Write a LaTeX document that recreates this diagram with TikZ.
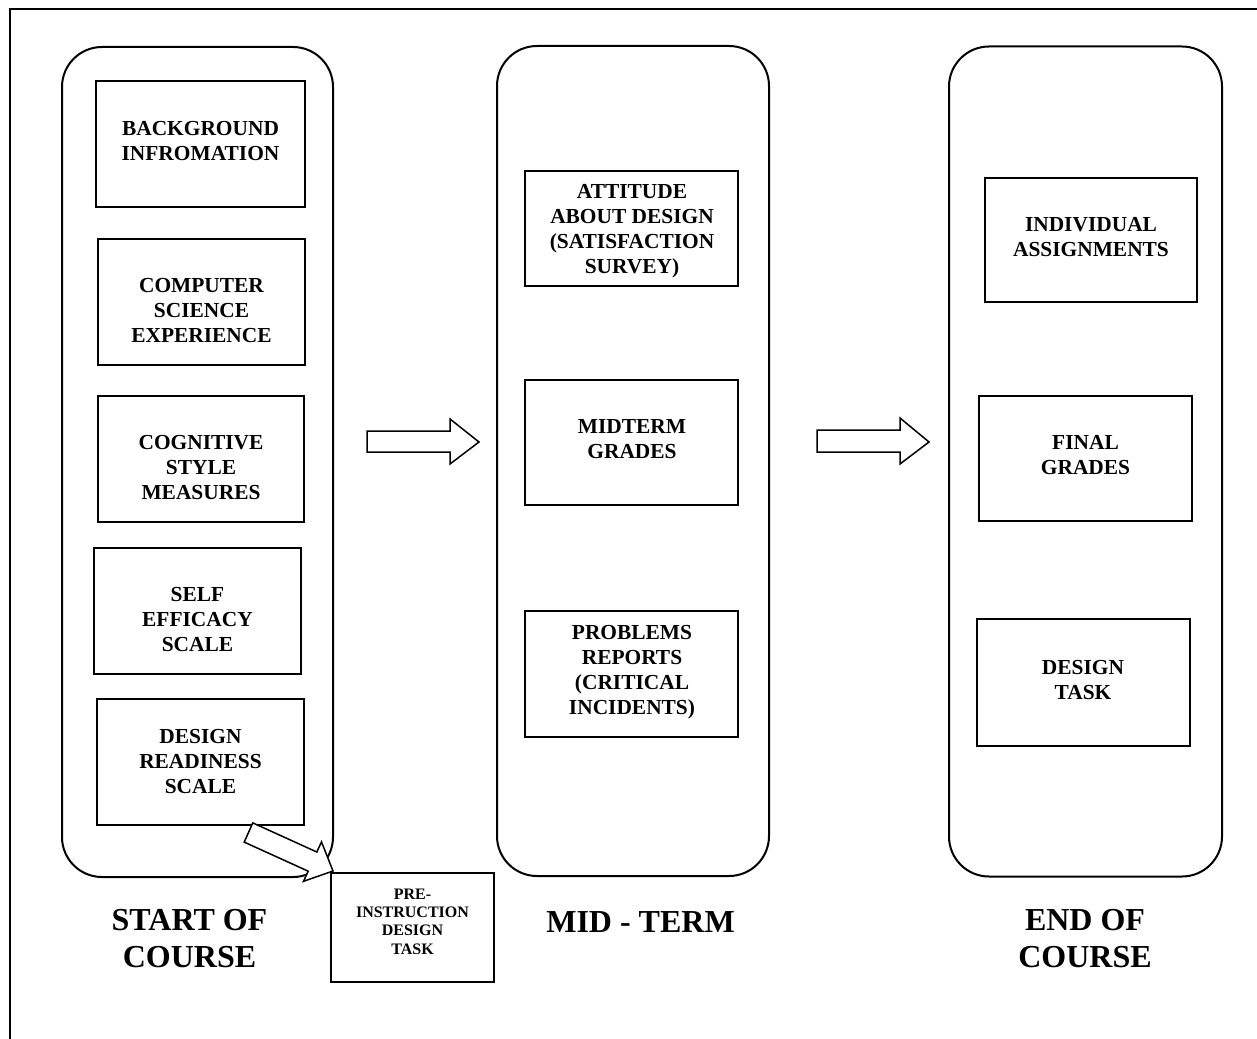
\documentclass[tikz,border=0pt]{standalone}
\usepackage{fontspec}
\setmainfont{Liberation Serif}
\begin{document}
\begin{tikzpicture}[x=1pt,y=-1pt,
  stage/.style={draw,line width=2pt,rounded corners=40pt,minimum width=#1,minimum height=830pt,inner sep=0pt},
  item/.style={draw,line width=2pt,minimum height=126pt,inner sep=0pt,minimum width=#1},
  itemtext/.style={align=center,inner sep=0pt,font=\fontsize{21.4pt}{25pt}\selectfont\bfseries},
  smalltext/.style={align=center,inner sep=0pt,font=\fontsize{16pt}{18.4pt}\selectfont\bfseries},
  bigtext/.style={align=center,inner sep=0pt,font=\fontsize{32pt}{37pt}\selectfont\bfseries},
  blockarrow/.style={draw,line width=1.5pt,fill=white,line join=miter}]
\useasboundingbox (0,0) rectangle (1257,1038);
\fill[white] (0,0) rectangle (1257,1038);

% page frame, running off the right and bottom edges
\begin{scope}
  \clip (0,0) rectangle (1257,1038);
  \draw[line width=2.5pt] (10,1060) -- (10,9) -- (1280,9);
\end{scope}

% the three stages
\node[stage=271pt] (start) at (197.5,462) {};
\node[stage=272pt] (mid)   at (633,461) {};
\node[stage=273pt] (end)   at (1085.5,461.5) {};

% start of course
\node[item=209pt] (bg)   at (200.5,144) {};
\node[itemtext] at (200.5,141.5) {BACKGROUND\\INFROMATION};
\node[item=207pt] (cs)   at (201.5,301.5) {};
\node[itemtext] at (201.5,311) {COMPUTER\\SCIENCE\\EXPERIENCE};
\node[item=206pt] (cog)  at (201,459) {};
\node[itemtext] at (201,468) {COGNITIVE\\STYLE\\MEASURES};
\node[item=207pt] (self) at (197.5,610.5) {};
\node[itemtext] at (197.5,620) {SELF\\EFFICACY\\SCALE};
\node[item=207pt] (dr)   at (200.5,762) {};
\node[itemtext] at (200.5,762) {DESIGN\\READINESS\\SCALE};

% mid-term
\node[item=213pt,minimum height=115pt] (att) at (631.5,228.5) {};
\node[itemtext] at (632,231.5) {ATTITUDE\\ABOUT DESIGN\\(SATISFACTION\\SURVEY)};
\node[item=213pt,minimum height=125pt] (mt) at (631.5,442.5) {};
\node[itemtext] at (632,439.5) {MIDTERM\\GRADES};
\node[item=213pt] (pr) at (631.5,674) {};
\node[itemtext] at (632,672.5) {PROBLEMS\\REPORTS\\(CRITICAL\\INCIDENTS)};

% end of course
\node[item=212pt,minimum height=124pt] (ind) at (1091,240) {};
\node[itemtext] at (1091,237.5) {INDIVIDUAL\\ASSIGNMENTS};
\node[item=213pt,minimum height=125pt] (fg) at (1085.5,458.5) {};
\node[itemtext] at (1085.5,455.5) {FINAL\\GRADES};
\node[item=213pt,minimum height=127pt] (dt) at (1083,682.5) {};
\node[itemtext] at (1083,680) {DESIGN\\TASK};

% stage captions
\node[bigtext] (lstart) at (189.5,938.5) {START OF\\COURSE};
\node[bigtext] (lmid)   at (640.5,922) {MID - TERM};
\node[bigtext] (lend)   at (1085,938.5) {END OF\\COURSE};

% block arrows between stages
\draw[blockarrow] (367,431) -- (450,431) -- (450,419) -- (479,442) -- (450,464)
  -- (450,452) -- (367,452) -- cycle;
\draw[blockarrow] (817,430) -- (900,430) -- (900,418) -- (929,442) -- (900,464)
  -- (900,452) -- (817,452) -- cycle;

% pre-instruction task
\node[draw,line width=2pt,minimum width=163pt,minimum height=109pt,inner sep=0pt] (pre) at (412.5,927.5) {};
\node[smalltext] at (412.5,921.5) {PRE-\\INSTRUCTION\\DESIGN\\TASK};
\draw[blockarrow] (252.8,822.9) -- (316.8,852.0) -- (321.5,841.9) -- (333,871)
  -- (303.5,881.3) -- (308.2,871.2) -- (244.2,842.1) -- cycle;
\end{tikzpicture}
\end{document}
